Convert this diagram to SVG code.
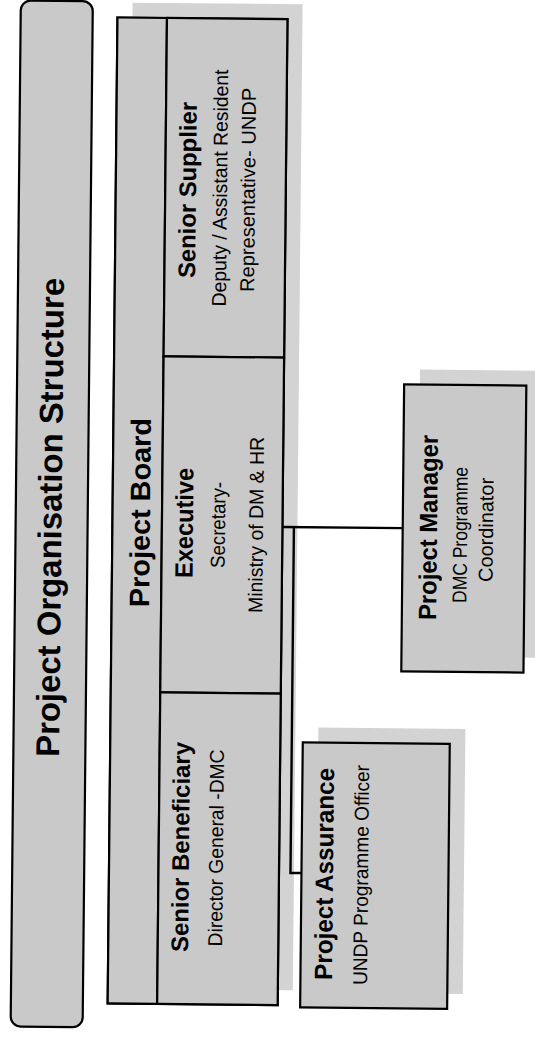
<svg xmlns="http://www.w3.org/2000/svg" width="535" height="1037" viewBox="0 0 535 1037">
<style>
.bg{fill:#ffffff}
.box{fill:#c9c9c9;stroke:#000;stroke-width:2.2}
.shadow{fill:#d3d3d3}
.h{font-family:"Liberation Sans",Arial,sans-serif;font-weight:bold;fill:#000;text-anchor:middle}
.s{font-family:"Liberation Sans",Arial,sans-serif;fill:#000;text-anchor:middle}
.conn{fill:none;stroke:#000;stroke-width:2.4}
</style>
<rect class="bg" x="0" y="0" width="535" height="1037"/>
<g transform="rotate(0.57 267 518)">
  <g id="title">
    <rect class="box" x="15.7" y="3" width="72" height="1026" rx="10"/>
    <text class="h" font-size="33" textLength="479" lengthAdjust="spacingAndGlyphs" transform="translate(61.5,519.6) rotate(-90)">Project Organisation Structure</text>
  </g>
  <g id="project-board">
    <rect class="shadow" x="127.5" y="4" width="170" height="986"/>
    <rect class="box" x="112.5" y="19" width="170" height="986"/>
    <rect class="box" x="112.5" y="19" width="49.5" height="986"/>
    <text class="h" font-size="28" textLength="189" lengthAdjust="spacingAndGlyphs" transform="translate(149.9,513.8) rotate(-90)">Project Board</text>
  </g>
  <g id="senior-supplier">
    <rect class="box" x="162" y="19" width="120.5" height="338.4"/>
    <text class="h" font-size="24" textLength="176" lengthAdjust="spacingAndGlyphs" transform="translate(192.7,190.8) rotate(-90)">Senior Supplier</text>
    <text class="s" font-size="20" textLength="237" lengthAdjust="spacingAndGlyphs" transform="translate(223.7,188.4) rotate(-90)">Deputy / Assistant Resident</text>
    <text class="s" font-size="20" textLength="204" lengthAdjust="spacingAndGlyphs" transform="translate(251.7,190.1) rotate(-90)">Representative- UNDP</text>
  </g>
  <g id="executive">
    <rect class="box" x="162" y="357.4" width="120.5" height="336"/>
    <text class="h" font-size="25" textLength="110" lengthAdjust="spacingAndGlyphs" transform="translate(193,523.7) rotate(-90)">Executive</text>
    <text class="s" font-size="20" textLength="86" lengthAdjust="spacingAndGlyphs" transform="translate(225.1,525.4) rotate(-90)">Secretary-</text>
    <text class="s" font-size="20" textLength="176" lengthAdjust="spacingAndGlyphs" transform="translate(263.1,525) rotate(-90)">Ministry of DM &amp; HR</text>
  </g>
  <g id="senior-beneficiary">
    <rect class="box" x="162" y="693.4" width="120.5" height="311.6"/>
    <text class="h" font-size="24" textLength="210" lengthAdjust="spacingAndGlyphs" transform="translate(192.3,847.8) rotate(-90)">Senior Beneficiary</text>
    <text class="s" font-size="20" textLength="197" lengthAdjust="spacingAndGlyphs" transform="translate(226.3,848.4) rotate(-90)">Director General -DMC</text>
  </g>
  <g id="project-manager">
    <rect class="shadow" x="418.5" y="368" width="122.2" height="287"/>
    <rect class="box" x="402.8" y="383" width="122.2" height="287"/>
    <text class="h" font-size="25" textLength="185" lengthAdjust="spacingAndGlyphs" transform="translate(437.1,525.8) rotate(-90)">Project Manager</text>
    <text class="s" font-size="20" textLength="136" lengthAdjust="spacingAndGlyphs" transform="translate(467.2,533) rotate(-90)">DMC Programme</text>
    <text class="s" font-size="20" textLength="104" lengthAdjust="spacingAndGlyphs" transform="translate(493.1,527.7) rotate(-90)">Coordinator</text>
  </g>
  <g id="project-assurance">
    <rect class="shadow" x="320.5" y="727" width="147" height="265"/>
    <rect class="box" x="305" y="742" width="147" height="265"/>
    <text class="h" font-size="25" textLength="212" lengthAdjust="spacingAndGlyphs" transform="translate(336.5,873.3) rotate(-90)">Project Assurance</text>
    <text class="s" font-size="20" textLength="220" lengthAdjust="spacingAndGlyphs" transform="translate(371.6,874) rotate(-90)">UNDP Programme Officer</text>
  </g>
  <g id="connectors">
    <path class="conn" d="M282.5 526.8 H402.8"/>
    <path class="conn" d="M294 526.8 V872.7 H305"/>
  </g>
</g>
</svg>
